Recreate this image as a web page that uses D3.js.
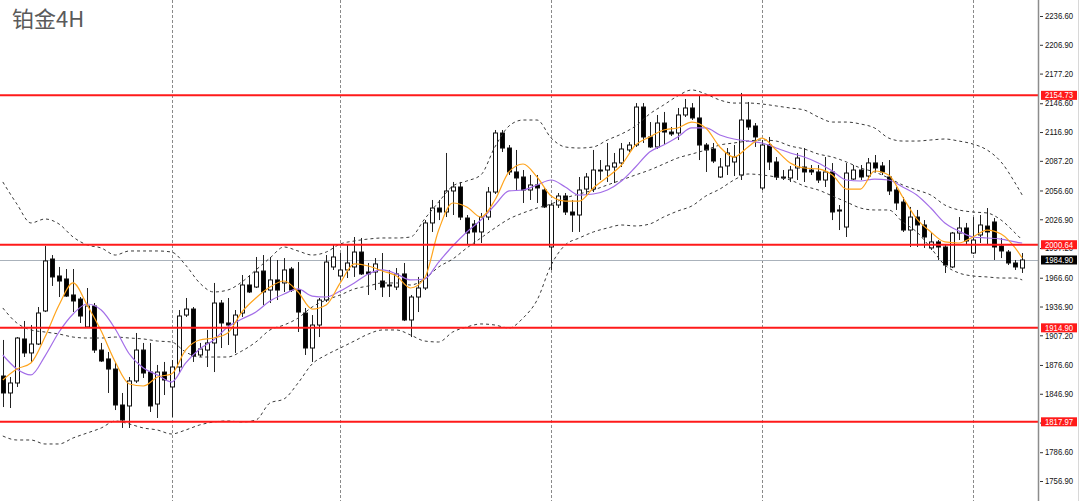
<!DOCTYPE html>
<html><head><meta charset="utf-8">
<script src="https://cdn.jsdelivr.net/npm/d3@7/dist/d3.min.js"></script>
<style>
html,body{margin:0;padding:0;background:#fff;}
svg{display:block;}
</style></head>
<body>
<svg id="chart" width="1080" height="501"></svg>
<script>
const title = "铂金4H";

const opens = [1865.2,1847.7,1858.0,1903.4,1889.0,1898.2,1932.3,1985.9,1968.4,1965.3,
1948.8,1944.6,1915.8,1937.4,1892.0,1882.8,1872.4,1835.3,1834.3,1860.1,
1892.0,1869.3,1836.3,1869.3,1853.9,1874.5,1928.1,1934.3,1886.9,1892.0,
1899.3,1940.5,1919.9,1907.5,1930.2,1959.1,1957.0,1973.5,1953.9,1964.3,
1961.2,1975.6,1953.9,1930.2,1894.1,1917.8,1943.6,1977.7,1968.4,1974.6,
1977.7,1993.1,1972.5,1972.5,1963.2,1959.1,1957.0,1970.5,1923.0,1946.7,
1956.0,2023.1,2038.5,2034.4,2056.1,2060.2,2028.2,2022.0,2013.8,2029.2,
2055.0,2115.9,2100.4,2075.7,2070.5,2057.1,2062.3,2057.1,1998.3,2041.6,
2050.9,2034.4,2031.3,2058.1,2058.1,2077.7,2077.7,2080.8,2085.0,2098.4,
2103.5,2142.7,2111.8,2101.5,2126.2,2116.9,2115.9,2134.5,2141.7,2131.4,
2103.5,2099.4,2070.5,2081.9,2086.0,2072.6,2129.3,2123.1,2059.2,2103.5,
2086.0,2070.5,2069.5,2079.8,2080.8,2077.7,2075.7,2067.4,2075.7,2036.5,
2018.9,2068.4,2077.7,2071.5,2085.0,2081.9,2070.5,2057.1,2044.7,2015.8,
2029.2,2021.0,1997.3,2003.5,1998.3,1977.7,2012.7,2017.9,1992.1,2010.7,
2019.9,2024.1,1999.3,1993.1,1981.8,1976.6];

const highs = [1902.4,1864.2,1905.4,1922.0,1917.8,1936.4,1999.3,1990.0,1977.7,1975.6,
1975.6,1946.7,1956.0,1940.5,1899.3,1890.0,1879.7,1847.7,1864.2,1909.6,
1899.3,1899.3,1876.6,1879.7,1881.7,1933.3,1945.7,1936.4,1899.3,1912.7,
1961.2,1943.6,1945.7,1933.3,1969.4,1969.4,1988.0,1990.0,1988.0,1984.9,
1986.9,1977.7,1982.8,1935.4,1928.1,1945.7,1990.0,2000.4,1992.1,2000.4,
2008.6,2007.6,1981.8,1986.9,1992.1,1974.6,1976.6,1981.8,1948.8,1967.4,
2026.1,2046.8,2046.8,2095.3,2065.4,2065.4,2031.3,2026.1,2033.4,2060.2,
2119.0,2119.0,2103.5,2098.4,2077.7,2072.6,2072.6,2060.2,2043.7,2054.0,
2054.0,2046.8,2070.5,2074.6,2098.4,2088.0,2105.6,2095.3,2105.6,2106.6,
2146.8,2146.8,2127.2,2134.5,2137.6,2122.1,2141.7,2151.0,2146.8,2155.1,
2105.6,2105.6,2090.1,2100.4,2103.5,2157.2,2147.9,2126.2,2108.7,2111.8,
2091.1,2077.7,2081.9,2095.3,2100.4,2082.9,2082.9,2091.1,2084.9,2041.6,
2084.9,2082.9,2082.9,2090.1,2093.2,2086.0,2088.0,2060.2,2049.9,2039.6,
2036.5,2026.1,2012.7,2005.5,2000.4,2013.8,2029.2,2023.1,2029.2,2031.3,
2038.5,2028.2,2007.6,1995.2,1984.9,1992.1];

const lows = [1833.2,1832.2,1853.9,1884.8,1879.7,1897.2,1931.2,1958.1,1946.7,1946.7,
1931.2,1919.9,1914.7,1889.0,1879.7,1847.7,1830.1,1811.6,1811.6,1858.0,
1863.2,1828.1,1821.9,1845.6,1822.9,1868.3,1926.1,1879.7,1884.8,1874.5,
1869.3,1894.1,1897.2,1889.0,1926.1,1950.8,1956.0,1938.5,1940.5,1943.6,
1951.9,1951.9,1910.6,1886.9,1879.7,1905.4,1941.6,1974.6,1964.3,1966.3,
1967.4,1969.4,1948.8,1953.9,1946.7,1946.7,1953.9,1921.9,1905.4,1931.2,
1953.9,2013.8,2026.1,2029.2,2031.3,2026.1,2000.4,2000.4,2002.4,2026.1,
2053.0,2096.3,2072.6,2057.1,2043.7,2046.8,2043.7,2038.5,1974.6,2038.5,
2031.3,2013.8,2013.8,2051.9,2055.0,2067.4,2065.4,2064.3,2080.8,2096.3,
2101.5,2105.6,2100.4,2099.4,2103.5,2112.8,2108.7,2132.4,2129.3,2088.0,
2075.7,2084.9,2069.5,2072.6,2071.5,2067.4,2119.0,2101.5,2057.1,2077.7,
2067.4,2067.4,2065.4,2067.4,2065.4,2072.6,2064.3,2060.2,2026.1,2015.8,
2008.6,2067.4,2067.4,2067.4,2075.7,2072.6,2051.9,2036.5,2013.8,1998.3,
1998.3,1997.3,1995.2,1984.9,1971.5,1976.6,2005.5,2000.4,1991.1,2002.4,
2000.4,1984.9,1986.9,1979.7,1974.6,1971.5];

const closes = [1847.7,1858.0,1904.4,1889.0,1898.2,1930.2,1983.9,1967.4,1963.2,1947.7,
1942.6,1927.1,1937.4,1892.0,1880.7,1872.4,1835.3,1819.8,1860.1,1892.0,
1868.3,1834.3,1869.3,1861.1,1874.5,1927.1,1934.3,1885.8,1893.1,1899.3,
1940.5,1919.9,1917.8,1928.1,1959.1,1951.9,1972.5,1951.9,1964.3,1953.9,
1974.6,1953.9,1931.2,1894.1,1917.8,1943.6,1982.8,1988.0,1974.6,1981.8,
1993.1,1970.5,1970.5,1980.8,1957.0,1958.1,1970.5,1923.0,1946.7,1956.0,
2023.1,2038.5,2034.4,2056.1,2060.2,2029.2,2012.7,2013.8,2029.2,2055.0,
2115.9,2100.4,2075.7,2069.5,2057.1,2062.3,2059.2,2039.6,2041.6,2050.9,
2034.4,2031.3,2057.1,2070.5,2077.7,2076.7,2081.9,2085.0,2099.4,2103.5,
2142.7,2111.8,2101.5,2126.2,2116.9,2114.9,2134.5,2141.7,2131.4,2103.5,
2098.4,2087.0,2080.8,2095.3,2091.1,2129.3,2122.1,2111.8,2103.5,2086.0,
2070.5,2069.5,2077.7,2090.1,2075.7,2075.7,2067.4,2075.7,2034.4,2035.4,
2074.6,2077.7,2070.5,2085.0,2079.8,2075.7,2056.1,2043.7,2015.8,2029.2,
2021.0,2008.6,2003.5,1998.3,1979.7,2012.7,2017.9,2004.5,2005.5,2021.0,
2013.8,1998.3,1994.2,1981.8,1977.7,1984.9];

// indicator readings, sampled at bar indices 0,2,4,...,144,145
const lineIdx = d3.range(0, 145, 2).concat([145]);
const maFast = [1861.1,1872.4,1878.6,1905.4,1938.5,1961.2,1938.5,1911.6,1879.7,1857.0,
1854.9,1864.2,1867.3,1892.0,1902.4,1904.4,1909.6,1931.2,1945.7,1957.0,
1963.2,1951.9,1934.3,1938.5,1961.2,1980.8,1978.7,1973.5,1968.4,1956.0,
1966.3,2015.8,2043.7,2039.6,2029.2,2046.8,2075.7,2083.9,2070.5,2050.9,
2045.7,2045.7,2059.2,2070.5,2082.9,2103.5,2111.8,2119.0,2121.1,2127.2,
2121.1,2101.5,2091.1,2101.5,2110.7,2098.4,2085.0,2079.8,2078.8,2072.6,
2058.1,2058.1,2076.7,2072.6,2049.9,2027.2,2013.8,2003.5,2002.4,2008.6,
2015.8,2011.7,1997.3,1987.0];
const maSlow = [1886.9,1872.4,1866.3,1885.8,1910.6,1929.2,1939.5,1933.3,1913.7,1887.9,
1873.5,1866.3,1859.0,1878.6,1893.1,1902.4,1915.8,1924.0,1931.2,1942.6,
1949.8,1955.0,1947.7,1946.7,1952.9,1961.2,1970.5,1974.6,1970.5,1964.3,
1965.3,1982.8,1999.3,2013.8,2026.1,2041.6,2056.1,2057.1,2062.3,2067.4,
2060.2,2051.9,2053.0,2057.1,2066.4,2080.8,2096.3,2103.5,2111.8,2121.1,
2121.1,2113.8,2109.7,2107.6,2105.6,2100.4,2095.3,2091.1,2085.0,2076.7,
2067.4,2066.4,2068.4,2067.4,2060.2,2051.9,2038.5,2023.1,2014.8,2008.6,
2007.6,2006.5,2003.5,2002.4];
const bbUpper = [2065.4,2042.7,2023.1,2027.2,2022.0,2008.6,2000.4,1997.3,1990.0,1994.2,
1994.2,1994.2,1993.1,1979.7,1961.2,1951.9,1953.9,1962.2,1974.6,1986.9,
1998.3,1994.2,1990.0,1993.1,2001.4,2004.5,2006.5,2007.6,2007.6,2008.6,
2027.2,2044.7,2061.2,2066.4,2072.6,2101.5,2123.1,2129.3,2129.3,2110.7,
2101.5,2100.4,2101.5,2108.7,2114.9,2123.1,2135.5,2144.8,2154.1,2160.3,
2156.1,2149.9,2146.8,2146.8,2145.8,2143.8,2141.7,2139.6,2132.4,2127.2,
2127.2,2125.2,2121.1,2110.7,2107.6,2107.6,2108.7,2109.7,2107.6,2104.5,
2098.4,2086.0,2064.3,2051.9];
const bbMid = [1935.4,1919.9,1912.7,1910.6,1908.5,1905.4,1904.4,1904.4,1905.4,1904.4,
1903.4,1901.3,1900.3,1890.0,1884.8,1884.8,1884.8,1891.0,1900.3,1912.7,
1917.8,1925.0,1936.4,1943.6,1948.8,1955.0,1958.1,1961.2,1961.2,1959.1,
1965.3,1977.7,1985.9,1997.3,2007.6,2017.9,2027.2,2033.4,2038.5,2042.7,
2048.8,2053.0,2057.1,2062.3,2067.4,2072.6,2077.7,2083.9,2090.1,2094.2,
2098.4,2103.5,2105.6,2107.6,2108.7,2107.6,2102.5,2099.4,2094.2,2091.1,
2086.0,2079.8,2075.7,2069.5,2062.3,2057.1,2051.9,2041.6,2036.5,2034.4,
2033.4,2026.1,2012.7,2005.5];
const bbLower = [1803.3,1799.2,1799.2,1795.1,1795.1,1801.3,1806.4,1811.6,1818.8,1815.7,
1811.6,1809.5,1805.4,1809.5,1814.7,1817.8,1818.8,1817.8,1819.8,1837.4,
1841.5,1858.0,1877.6,1886.9,1894.1,1901.3,1908.5,1912.7,1912.7,1907.5,
1901.3,1900.3,1910.6,1915.8,1918.9,1917.8,1914.7,1925.0,1943.6,1979.7,
2000.4,2007.6,2013.8,2017.9,2021.0,2020.0,2022.0,2029.2,2035.4,2040.6,
2050.9,2058.1,2067.4,2073.6,2072.6,2070.5,2067.4,2061.2,2057.1,2050.9,
2044.7,2038.5,2036.5,2036.5,2024.1,2013.8,1997.3,1979.7,1971.5,1968.4,
1967.4,1966.3,1966.3,1964.3];

const yTicks = [2236.60,2206.90,2177.20,2146.60,2116.90,2087.20,2056.60,2026.90,1997.20,
1966.60,1936.90,1907.20,1876.60,1846.90,1817.20,1786.60,1756.90];
const levels = [2154.73, 2000.64, 1914.90, 1817.97];
const lastPrice = 1984.90;
const sessionBreaks = [24, 48, 78, 108, 138];

const W = 1080, H = 501, axisX = 1038;
const svg = d3.select("#chart");
const x = d3.scaleLinear().domain([0, 145]).range([2.8, 1022.2]);
const y = d3.scaleLinear().domain([1756.9, 2236.6]).range([481, 16]);

svg.append("defs").append("clipPath").attr("id","plot")
  .append("rect").attr("x",0).attr("y",0).attr("width",axisX).attr("height",H);
const plot = svg.append("g").attr("clip-path","url(#plot)");

// session separators
plot.selectAll("line.sep").data(sessionBreaks).join("line")
  .attr("class","sep")
  .attr("x1", d => Math.round(x(d)) + 0.5).attr("x2", d => Math.round(x(d)) + 0.5)
  .attr("y1", 0).attr("y2", H)
  .attr("stroke", "#8a8a8a").attr("stroke-width", 1).attr("stroke-dasharray", "3,2");

// last price line
plot.append("line").attr("x1",0).attr("x2",axisX)
  .attr("y1", Math.round(y(lastPrice))+0.5).attr("y2", Math.round(y(lastPrice))+0.5)
  .attr("stroke","#aab2bb").attr("stroke-width",1);

// candles
const bars = d3.range(opens.length).map(i => ({i, o:opens[i], h:highs[i], l:lows[i], c:closes[i]}));
const cg = plot.append("g");
cg.selectAll("line.wick").data(bars).join("line")
  .attr("x1", d => Math.round(x(d.i)) + 0.5).attr("x2", d => Math.round(x(d.i)) + 0.5)
  .attr("y1", d => y(d.h)).attr("y2", d => y(d.l))
  .attr("stroke", "#222").attr("stroke-width", 1);
cg.selectAll("rect.body").data(bars).join("rect")
  .attr("x", d => Math.round(x(d.i)) - 1.5)
  .attr("width", 4)
  .attr("y", d => y(Math.max(d.o, d.c)))
  .attr("height", d => Math.max(0.8, Math.abs(y(d.o) - y(d.c))))
  .attr("fill", d => d.c > d.o ? "#fff" : "#000")
  .attr("stroke", "#111").attr("stroke-width", 1);

// Bollinger bands
const pts = arr => lineIdx.map((k, j) => [x(k), y(arr[j])]).filter((p, j) => arr[j] != null);
const lineGen = d3.line().curve(d3.curveMonotoneX);
[bbUpper, bbMid, bbLower].forEach(arr => {
  plot.append("path").attr("d", lineGen(pts(arr)))
    .attr("fill","none").attr("stroke","#3a3a3a").attr("stroke-width",1)
    .attr("stroke-dasharray","3,3");
});
// moving averages
plot.append("path").attr("d", lineGen(pts(maSlow)))
  .attr("fill","none").attr("stroke","#a36ee8").attr("stroke-width",1.2);
plot.append("path").attr("d", lineGen(pts(maFast)))
  .attr("fill","none").attr("stroke","#ffa41c").attr("stroke-width",1.2);

// horizontal levels
plot.selectAll("line.lvl").data(levels).join("line")
  .attr("class","lvl")
  .attr("x1",0).attr("x2",axisX)
  .attr("y1", d => y(d)).attr("y2", d => y(d))
  .attr("stroke","#ff1a1a").attr("stroke-width",2);

// right axis
svg.append("line").attr("x1",axisX+0.5).attr("x2",axisX+0.5).attr("y1",0).attr("y2",H)
  .attr("stroke","#8c8c8c").attr("stroke-width",1.5);
svg.append("line").attr("x1",1078.5).attr("x2",1078.5).attr("y1",0).attr("y2",H)
  .attr("stroke","#d8d8d8").attr("stroke-width",1);

const axis = d3.axisRight(y).tickValues(yTicks).tickFormat(d3.format(".2f"))
  .tickSize(3).tickPadding(2);
const ag = svg.append("g").attr("transform", `translate(${axisX+2},0)`).call(axis);
ag.select(".domain").remove();
ag.selectAll(".tick line").attr("stroke","#333");
ag.selectAll(".tick text")
  .attr("font-family","'Liberation Sans', Arial, sans-serif")
  .attr("font-size", 8.5).attr("fill","#111")
  .attr("textLength", 28).attr("lengthAdjust","spacingAndGlyphs");

// price tags
const tags = levels.map(v => ({v, bg:"#ff1a1a"})).concat([{v:lastPrice, bg:"#000"}]);
const tg = svg.append("g").selectAll("g").data(tags).join("g")
  .attr("transform", d => `translate(1041,${y(d.v)})`);
tg.append("rect").attr("x",0).attr("y",-4.5).attr("width",36).attr("height",9)
  .attr("fill", d => d.bg);
tg.append("text").attr("x",4).attr("y",0).attr("dy","0.34em")
  .attr("font-family","'Liberation Sans', Arial, sans-serif").attr("font-size",8.5)
  .attr("fill","#fff").attr("textLength",28).attr("lengthAdjust","spacingAndGlyphs")
  .text(d => d.v.toFixed(2));

// title
svg.append("text").attr("x",12).attr("y",27)
  .attr("font-family","'Noto Sans CJK SC', 'Noto Sans', sans-serif")
  .attr("font-size",22).attr("fill","#5a5a5a").text(title);
</script>
</body></html>
